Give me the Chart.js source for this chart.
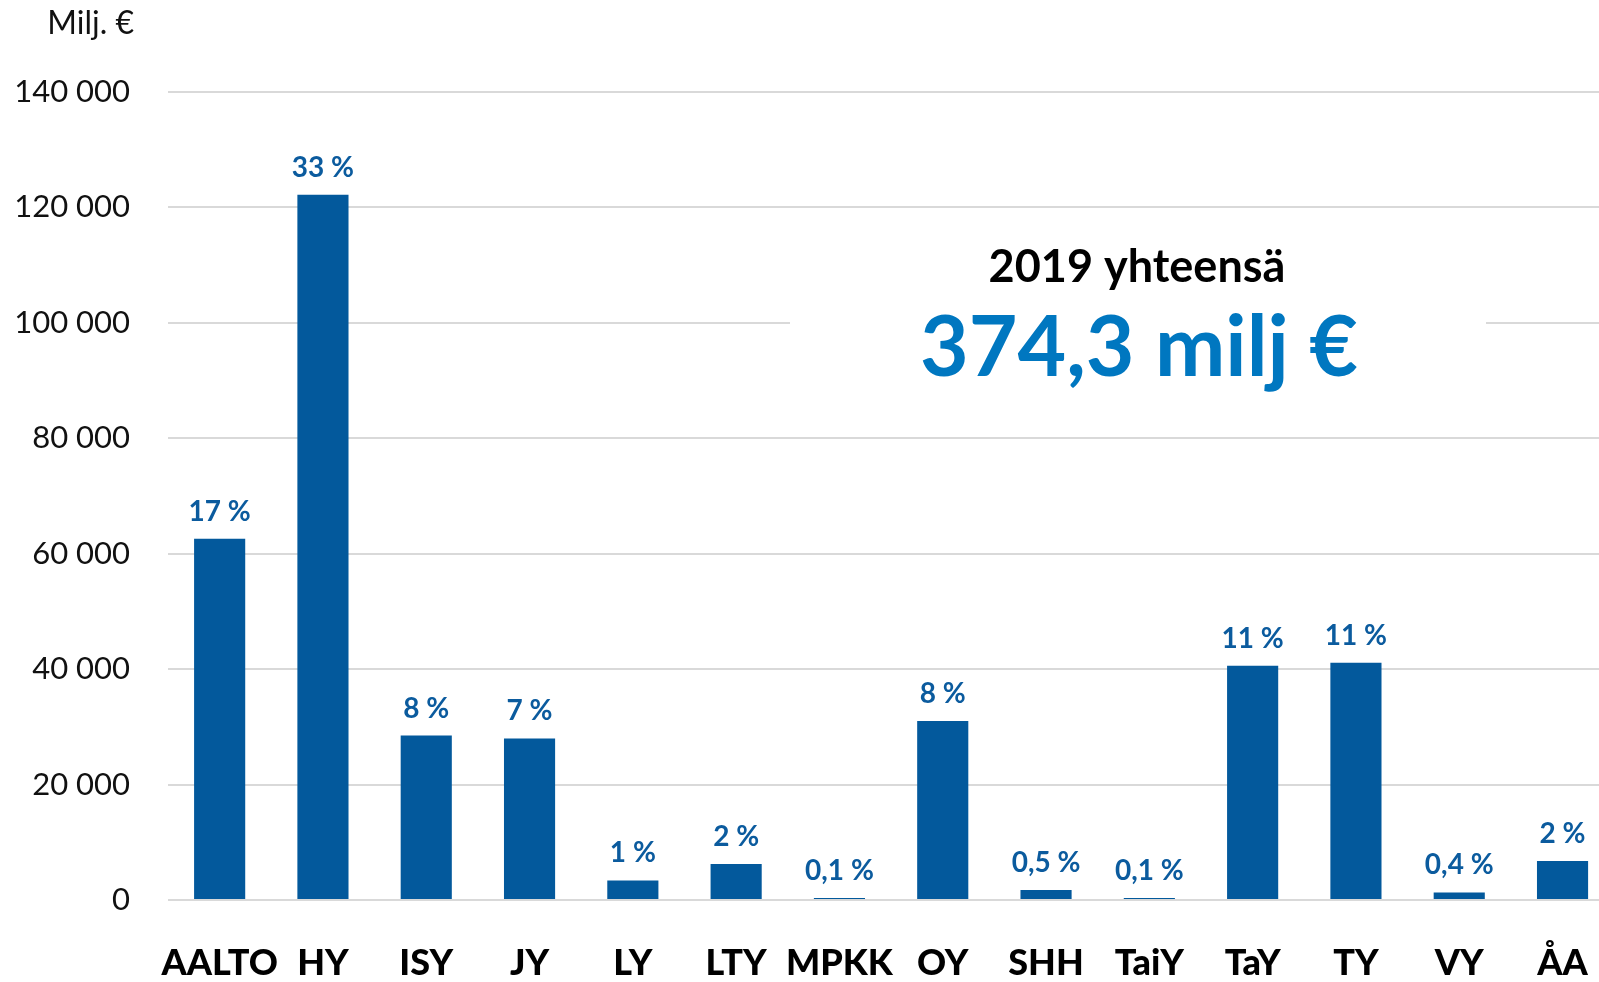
<!DOCTYPE html>
<html lang="fi">
<head>
<meta charset="utf-8">
<title>Yliopistot 2019</title>
<script src="https://cdn.jsdelivr.net/npm/chart.js@4.4.0/dist/chart.umd.min.js"></script>
<style>
    html, body { margin: 0; padding: 0; background: #fff; overflow: hidden; }
    .chart-wrap { position: relative; width: 1599px; height: 982px; }
</style>
</head>
<body>
<div class="chart-wrap"><canvas id="universityChart"></canvas></div>
<script>
// Data
const categories = ['AALTO', 'HY', 'ISY', 'JY', 'LY', 'LTY', 'MPKK', 'OY', 'SHH', 'TaiY', 'TaY', 'TY', 'VY', 'ÅA'];
const values = [62600, 122200, 28500, 28000, 3400, 6250, 350, 31000, 1750, 350, 40600, 41100, 1300, 6750];
const shares = ['17 %', '33 %', '8 %', '7 %', '1 %', '2 %', '0,1 %', '8 %', '0,5 %', '0,1 %', '11 %', '11 %', '0,4 %', '2 %'];
const yTicks = [0, 20000, 40000, 60000, 80000, 100000, 120000, 140000];
const unitLabel = 'Milj. €';
const totalTitle = '2019 yhteensä';
const totalValue = '374,3 milj €';

const FONT = 'Lato, "Open Sans", sans-serif';
const BAR_BLUE = '#03599c';
const LABEL_BLUE = '#0b5b9e';

// thousands with a space: 140000 -> "140 000"
function fmt(v) {
    return String(v).replace(/\B(?=(\d{3})+(?!\d))/g, ' ');
}

// draws the unit text, the total box and the percent labels
const annotations = {
    id: 'annotations',
    beforeDatasetsDraw(chart) {
        const ctx = chart.ctx;
        ctx.save();
        // white box over the gridlines behind the total
        ctx.fillStyle = '#fff';
        ctx.fillRect(790, 225, 696, 175);
        ctx.restore();
    },
    afterDatasetsDraw(chart) {
        const ctx = chart.ctx;
        ctx.save();

        ctx.fillStyle = '#111';
        ctx.font = '32px ' + FONT;
        ctx.textAlign = 'right';
        ctx.textBaseline = 'alphabetic';
        ctx.fillText(unitLabel, 134, 34);

        ctx.textAlign = 'center';
        ctx.fillStyle = '#000';
        ctx.font = 'bold 45px ' + FONT;
        ctx.fillText(totalTitle, 1137, 282);

        ctx.fillStyle = '#0077c0';
        ctx.font = 'bold 84px ' + FONT;
        ctx.fillText(totalValue, 1139, 376);

        // percent share above each bar
        ctx.fillStyle = LABEL_BLUE;
        ctx.font = 'bold 28px ' + FONT;
        const meta = chart.getDatasetMeta(0);
        meta.data.forEach((bar, i) => {
            ctx.fillText(shares[i], bar.x, bar.y - 18);
        });
        ctx.restore();
    }
};

const ctx = document.getElementById('universityChart');
new Chart(ctx, {
    type: 'bar',
    data: {
        datasets: [{
            data: values.map((v, i) => ({ x: i, y: v })),
            backgroundColor: BAR_BLUE,
            borderWidth: 0,
            barPercentage: 1,
            categoryPercentage: 0.495
        }]
    },
    options: {
        responsive: true,
        maintainAspectRatio: false,
        animation: false,
        layout: { padding: { top: 92, right: 0, bottom: 0, left: 0 } },
        plugins: {
            legend: { display: false },
            tooltip: { enabled: false }
        },
        scales: {
            x: {
                type: 'linear',
                // the last category sits partly outside the picture in the original
                min: -0.5,
                max: 13.353,
                offset: false,
                grid: { display: false, drawTicks: false, offset: false },
                border: { display: false },
                afterBuildTicks(scale) {
                    scale.ticks = categories.map((c, i) => ({ value: i }));
                },
                ticks: {
                    color: '#000',
                    padding: 42,
                    autoSkip: false,
                    maxRotation: 0,
                    font: { family: FONT, size: 36, weight: '900' },
                    callback: v => categories[v]
                },
                afterFit(scale) {
                    scale.height = 82;
                    scale.paddingLeft = 0;
                    scale.paddingRight = 0;
                }
            },
            y: {
                min: 0,
                max: 140000,
                afterBuildTicks(scale) {
                    scale.ticks = yTicks.map(v => ({ value: v }));
                },
                grid: { color: '#d9d9d9', lineWidth: 2, drawTicks: false },
                border: { display: false },
                ticks: {
                    color: '#111',
                    padding: 38,
                    font: { family: FONT, size: 31 },
                    callback: v => fmt(v)
                },
                afterFit(scale) { scale.width = 168; }
            }
        }
    },
    plugins: [annotations]
});
</script>
</body>
</html>
